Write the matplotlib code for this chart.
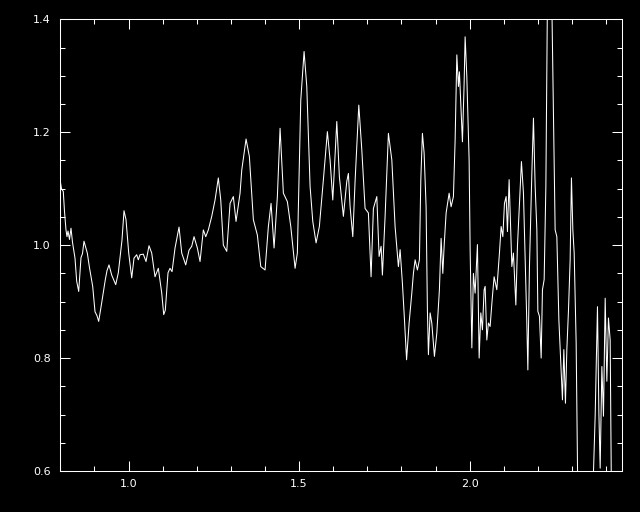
import matplotlib
matplotlib.use("Agg")
import matplotlib.pyplot as plt
from matplotlib.ticker import MultipleLocator, FormatStrFormatter

wavelength = [
    0.8000, 0.8035, 0.8088, 0.8123, 0.8167, 0.8196, 0.8226, 0.8270, 0.8314, 0.8358,
    0.8431, 0.8481, 0.8540, 0.8607, 0.8651, 0.8695, 0.8792, 0.8856, 0.8950, 0.9018,
    0.9076, 0.9126, 0.9214, 0.9320, 0.9370, 0.9428, 0.9507, 0.9625, 0.9701, 0.9809,
    0.9868, 0.9927, 1.0006, 1.0094, 1.0161, 1.0240, 1.0287, 1.0337, 1.0434, 1.0513,
    1.0601, 1.0680, 1.0777, 1.0874, 1.0974, 1.1032, 1.1079, 1.1158, 1.1217, 1.1276,
    1.1364, 1.1481, 1.1560, 1.1677, 1.1774, 1.1853, 1.1921, 1.2018, 1.2097, 1.2194,
    1.2264, 1.2340, 1.2440, 1.2537, 1.2633, 1.2704, 1.2780, 1.2880, 1.2977, 1.3073,
    1.3152, 1.3270, 1.3320, 1.3446, 1.3543, 1.3660, 1.3777, 1.3877, 1.4003, 1.4100,
    1.4179, 1.4267, 1.4364, 1.4443, 1.4540, 1.4657, 1.4757, 1.4883, 1.4950, 1.5050,
    1.5147, 1.5226, 1.5323, 1.5402, 1.5499, 1.5595, 1.5713, 1.5830, 1.5909, 1.5988,
    1.6106, 1.6182, 1.6299, 1.6399, 1.6446, 1.6496, 1.6575, 1.6642, 1.6751, 1.6839,
    1.6935, 1.7032, 1.7111, 1.7179, 1.7279, 1.7346, 1.7405, 1.7443, 1.7522, 1.7619,
    1.7719, 1.7815, 1.7912, 1.7962, 1.8029, 1.8079, 1.8152, 1.8226, 1.8305, 1.8352,
    1.8402, 1.8469, 1.8528, 1.8569, 1.8616, 1.8666, 1.8724, 1.8762, 1.8792, 1.8842,
    1.8891, 1.8968, 1.9038, 1.9114, 1.9164, 1.9214, 1.9252, 1.9311, 1.9399, 1.9457,
    1.9525, 1.9575, 1.9625, 1.9672, 1.9701, 1.9751, 1.9789, 1.9839, 1.9868, 1.9918,
    1.9985, 2.0015, 2.0065, 2.0111, 2.0161, 2.0229, 2.0279, 2.0328, 2.0375, 2.0425,
    2.0455, 2.0504, 2.0551, 2.0601, 2.0660, 2.0718, 2.0797, 2.0874, 2.0924, 2.0974,
    2.1021, 2.1070, 2.1109, 2.1158, 2.1238, 2.1284, 2.1355, 2.1402, 2.1460, 2.1519,
    2.1578, 2.1628, 2.1677, 2.1707, 2.1754, 2.1824, 2.1871, 2.1921, 2.1971, 2.2000,
    2.2047, 2.2097, 2.2135, 2.2185, 2.2235, 2.2287, 2.2346, 2.2405, 2.2457, 2.2507,
    2.2557, 2.2616, 2.2674, 2.2721, 2.2762, 2.2809, 2.2850, 2.2897, 2.2947, 2.2985,
    2.3026, 2.3065, 2.3123, 2.3182, 2.3387, 2.3592, 2.3680, 2.3748, 2.3789, 2.3827,
    2.3877, 2.3924, 2.3974, 2.4023, 2.4070, 2.4120, 2.4158, 2.4296, 2.4472,
]

flux = [
    1.113, 1.100, 1.095, 1.060, 1.027, 1.015, 1.025, 1.010, 1.030, 1.005,
    0.977, 0.936, 0.918, 0.978, 0.985, 1.007, 0.986, 0.960, 0.927, 0.882,
    0.875, 0.865, 0.898, 0.939, 0.955, 0.965, 0.947, 0.930, 0.951, 1.009,
    1.061, 1.045, 0.986, 0.942, 0.977, 0.983, 0.974, 0.983, 0.984, 0.971,
    0.999, 0.986, 0.944, 0.959, 0.915, 0.877, 0.885, 0.951, 0.959, 0.953,
    0.995, 1.032, 0.986, 0.965, 0.991, 0.998, 1.015, 0.995, 0.971, 1.027,
    1.015, 1.027, 1.051, 1.080, 1.119, 1.080, 1.000, 0.989, 1.074, 1.086,
    1.042, 1.092, 1.133, 1.188, 1.157, 1.045, 1.018, 0.962, 0.956, 1.033,
    1.074, 0.995, 1.086, 1.207, 1.092, 1.077, 1.033, 0.959, 0.986, 1.257,
    1.343, 1.281, 1.104, 1.042, 1.004, 1.033, 1.116, 1.201, 1.151, 1.080,
    1.219, 1.121, 1.051, 1.113, 1.127, 1.068, 1.015, 1.113, 1.248, 1.169,
    1.065, 1.057, 0.944, 1.065, 1.086, 0.980, 0.998, 0.947, 1.051, 1.198,
    1.151, 1.033, 0.962, 0.992, 0.933, 0.880, 0.797, 0.862, 0.915, 0.950,
    0.974, 0.956, 0.974, 1.116, 1.198, 1.163, 1.068, 0.886, 0.806, 0.880,
    0.862, 0.803, 0.844, 0.921, 1.012, 0.950, 0.998, 1.057, 1.092, 1.068,
    1.086, 1.186, 1.337, 1.281, 1.307, 1.234, 1.183, 1.287, 1.369, 1.298,
    1.151, 0.992, 0.818, 0.950, 0.915, 1.001, 0.800, 0.880, 0.850, 0.921,
    0.927, 0.832, 0.862, 0.856, 0.903, 0.944, 0.921, 0.986, 1.033, 1.015,
    1.074, 1.086, 1.024, 1.116, 0.962, 0.986, 0.894, 0.998, 1.074, 1.148,
    1.092, 0.974, 0.862, 0.779, 0.962, 1.127, 1.225, 1.104, 1.027, 0.883,
    0.874, 0.800, 0.921, 0.939, 1.104, 1.480, 1.550, 1.450, 1.234, 1.027,
    1.015, 0.868, 0.791, 0.726, 0.815, 0.720, 0.815, 0.883, 0.974, 1.119,
    1.027, 0.986, 0.827, 0.500, 0.450, 0.520, 0.697, 0.891, 0.703, 0.605,
    0.785, 0.697, 0.906, 0.759, 0.871, 0.832, 0.550, 0.450, 0.500,
]

fig = plt.figure(figsize=(6.4, 5.12), dpi=100, facecolor="black")
ax = fig.add_axes([0.0942, 0.0801, 0.9723 - 0.0942, 0.9623 - 0.0801])
ax.set_facecolor("black")
ax.plot(wavelength, flux, color="white", lw=0.75)

ax.set_xlim(0.8, 2.4475)
ax.set_ylim(0.6, 1.4)

ax.xaxis.set_major_locator(MultipleLocator(0.5))
ax.xaxis.set_minor_locator(MultipleLocator(0.1))
ax.yaxis.set_major_locator(MultipleLocator(0.2))
ax.yaxis.set_minor_locator(MultipleLocator(0.05))
ax.xaxis.set_major_formatter(FormatStrFormatter("%.1f"))
ax.yaxis.set_major_formatter(FormatStrFormatter("%.1f"))

for s in ax.spines.values():
    s.set_color("white")
    s.set_linewidth(0.75)

ax.tick_params(which="both", direction="in", colors="white", top=True, right=True,
               width=0.75, labelsize=8)
ax.tick_params(which="major", length=7)
ax.tick_params(which="minor", length=3.6)
ax.tick_params(axis="x", pad=6)
ax.tick_params(axis="y", pad=7)

fig.savefig("out.png", dpi=100, facecolor="black")
